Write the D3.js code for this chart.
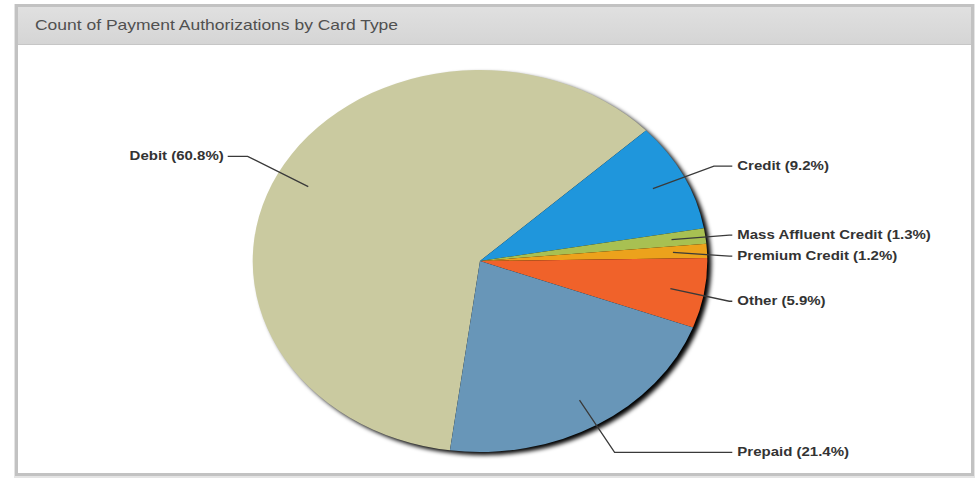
<!DOCTYPE html>
<html>
<head>
<meta charset="utf-8">
<script src="https://cdn.jsdelivr.net/npm/d3@7"></script>
<style>
  body { margin: 0; background: #fff; }
  svg { display: block; }
</style>
</head>
<body>
<svg id="paper"></svg>
<script>
// data
let categories = ["Debit", "Credit", "Mass Affluent Credit", "Premium Credit", "Other", "Prepaid"];
let shares = [60.8, 9.2, 1.3, 1.2, 5.9, 21.4];
let sliceColors = ["#cacaa0", "#1f96dc", "#a8c052", "#eca21c", "#f0622a", "#6896b8"];
let title = "Count of Payment Authorizations by Card Type";

let width = 978, height = 479;
let cx = 480, cy = 261, ry = 191, sx = 1.19;
let textStretch = 1.25;
let startDeg = 187.6;

let svg = d3.select("#paper")
    .attr("width", width)
    .attr("height", height);

let defs = svg.append("defs");
defs.append("filter")
    .attr("id", "pieShadow")
    .attr("x", "-20%").attr("y", "-20%")
    .attr("width", "140%").attr("height", "140%")
    .append("feGaussianBlur")
    .attr("stdDeviation", 2);

let hdrGrad = defs.append("linearGradient")
    .attr("id", "hdr")
    .attr("x1", 0).attr("y1", 0).attr("x2", 0).attr("y2", 1);
hdrGrad.append("stop").attr("offset", "0%").attr("stop-color", "#e0e0e0");
hdrGrad.append("stop").attr("offset", "100%").attr("stop-color", "#d5d5d5");

// panel frame
svg.append("rect")
    .attr("x", 14).attr("y", 4)
    .attr("width", 961).attr("height", 474)
    .attr("fill", "#e4e4e4");
svg.append("rect")
    .attr("x", 16.5).attr("y", 5.5)
    .attr("width", 956).attr("height", 469)
    .attr("fill", "#fff")
    .attr("stroke", "#c2c2c2")
    .attr("stroke-width", 3);
svg.append("rect")
    .attr("x", 18).attr("y", 7)
    .attr("width", 953).attr("height", 37)
    .attr("fill", "url(#hdr)");
svg.append("line")
    .attr("x1", 18).attr("x2", 971)
    .attr("y1", 44.5).attr("y2", 44.5)
    .attr("stroke", "#c6c6c6");

svg.append("text")
    .attr("transform", "translate(35,30) scale(" + textStretch + ",1)")
    .style("font-family", "'Liberation Sans', Arial, sans-serif")
    .style("font-size", "14px")
    .attr("fill", "#505050")
    .text(title);

// pie
let pie = d3.pie()
    .sort(null)
    .value(d => d)
    .startAngle(startDeg * Math.PI / 180)
    .endAngle(startDeg * Math.PI / 180 + 2 * Math.PI);

let arcs = pie(shares);
let arc = d3.arc().innerRadius(0).outerRadius(ry);

let g = svg.append("g")
    .attr("transform", "translate(" + cx + "," + cy + ")");

g.append("ellipse")
    .attr("cx", 4).attr("cy", 3)
    .attr("rx", ry * sx).attr("ry", ry)
    .attr("fill", "#000")
    .attr("opacity", 1)
    .attr("filter", "url(#pieShadow)");

let pg = g.append("g")
    .attr("transform", "scale(" + sx + ",1)");

pg.selectAll(".slice")
    .data(arcs)
    .enter()
    .append("path")
    .classed("slice", true)
    .attr("d", arc)
    .attr("fill", (d, i) => sliceColors[i]);

// labels
function pt(a, r) {
    return [Math.sin(a) * r * sx, -Math.cos(a) * r];
}

let labels = arcs.map((d, i) => {
    let mid = (d.startAngle + d.endAngle) / 2;
    let inner = pt(mid, ry * 0.85);
    let elbow = pt(mid, ry * 1.15);
    let right = Math.sin(mid) > 0;
    return {
        text: categories[i] + " (" + shares[i] + "%)",
        inner: inner,
        elbow: elbow,
        y: elbow[1] + (right ? 3 : -4),
        right: right
    };
});

// push overlapping labels apart on each side
[true, false].forEach(side => {
    let list = labels.filter(l => l.right === side).sort((a, b) => a.y - b.y);
    for (let k = 1; k < list.length; k++) {
        if (list[k].y < list[k - 1].y + 21) list[k].y = list[k - 1].y + 21;
    }
});

let lineEnd = ry * sx * 1.11;

g.selectAll(".connector")
    .data(labels)
    .enter()
    .append("polyline")
    .classed("connector", true)
    .attr("points", d => {
        let endX = d.right ? lineEnd : -lineEnd;
        let ex = d.right ? Math.min(d.elbow[0], endX - 3) : Math.max(d.elbow[0], endX + 3);
        return [d.inner, [ex, d.y], [endX, d.y]].map(p => p.join(",")).join(" ");
    })
    .attr("fill", "none")
    .attr("stroke", "#3a3a3a")
    .attr("stroke-width", 1.3);

g.selectAll(".label")
    .data(labels)
    .enter()
    .append("text")
    .classed("label", true)
    .attr("transform", d => {
        let x = d.right ? lineEnd + 5 : -lineEnd - 4;
        return "translate(" + x + "," + (d.y + 4) + ") scale(" + textStretch + ",1)";
    })
    .style("text-anchor", d => d.right ? "start" : "end")
    .style("font-family", "'Liberation Sans', Arial, sans-serif")
    .style("font-size", "12px")
    .style("font-weight", "bold")
    .attr("fill", "#333")
    .text(d => d.text);
</script>
</body>
</html>
